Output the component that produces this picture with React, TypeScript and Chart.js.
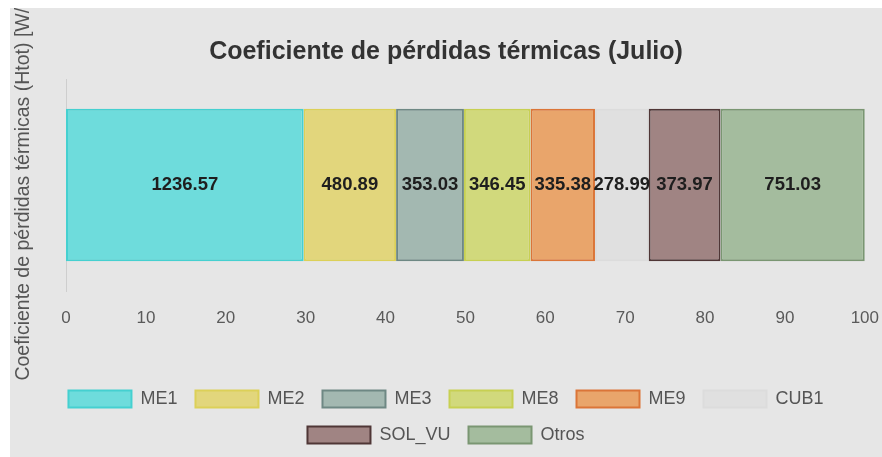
import React, { useEffect, useRef } from "react";
import { Chart, registerables } from "chart.js";

Chart.register(...registerables);

const seriesNames = ["ME1", "ME2", "ME3", "ME8", "ME9", "CUB1", "SOL_VU", "Otros"];
const seriesValues = [1236.57, 480.89, 353.03, 346.45, 335.38, 278.99, 373.97, 751.03];
const fillColors = ["#6EDCDC", "#E2D67C", "#A3B8B1", "#D1D97C", "#E9A56B", "#E0E0E0", "#A08483", "#A4BC9E"];
const borderColors = ["#45D0D0", "#DCD058", "#6E8884", "#C7D052", "#DB7538", "#DCDCDC", "#4F3636", "#7A9672"];
const categories = ["Julio"];
const xTicks = [0, 10, 20, 30, 40, 50, 60, 70, 80, 90, 100];

const FONT = '"Liberation Sans", Arial, Helvetica, sans-serif';

const total = seriesValues.reduce((a, b) => a + b, 0);

const barLabelPlugin = {
  id: "barLabels",
  afterDatasetsDraw(chart: any) {
    const ctx = chart.ctx;
    ctx.save();
    ctx.font = `bold 18.5px ${FONT}`;
    ctx.fillStyle = "#1e1e1e";
    ctx.textAlign = "center";
    ctx.textBaseline = "middle";
    chart.data.datasets.forEach((ds: any, i: number) => {
      const meta = chart.getDatasetMeta(i);
      meta.data.forEach((bar: any) => {
        const p = bar.getProps(["x", "y", "base"], true);
        ctx.fillText(seriesValues[i].toFixed(2), (p.x + p.base) / 2, p.y);
      });
    });
    ctx.restore();
  },
};

export default function App() {
  const ref = useRef<HTMLCanvasElement | null>(null);
  useEffect(() => {
    if (!ref.current) return;
    const chart = new Chart(ref.current, {
      type: "bar",
      data: {
        labels: categories,
        datasets: seriesNames.map((name, i) => ({
          label: name,
          data: [(seriesValues[i] / total) * 100],
          backgroundColor: fillColors[i],
          borderColor: borderColors[i],
          borderWidth: 2,
          borderSkipped: false,
        })),
      },
      options: {
        indexAxis: "y",
        animation: false,
        responsive: true,
        maintainAspectRatio: false,
        layout: { padding: { left: 0, right: 0, top: 0, bottom: 3 } },
        plugins: {
          title: {
            display: true,
            text: "Coeficiente de pérdidas térmicas (Julio)",
            color: "#333",
            font: { family: FONT, size: 25, weight: "bold" },
            padding: { top: 29, bottom: 12 },
          },
          legend: {
            position: "bottom",
            labels: {
              boxWidth: 63,
              boxHeight: 17,
              padding: 18,
              color: "#555",
              font: { family: FONT, size: 18 },
            },
          },
          tooltip: { enabled: false },
        },
        scales: {
          x: {
            stacked: true,
            min: 0,
            max: 100,
            grid: { display: false, drawTicks: true, tickLength: 14 },
            border: { display: false },
            afterBuildTicks: (axis: any) => {
              axis.ticks = xTicks.map((v) => ({ value: v }));
            },
            afterFit: (axis: any) => {
              axis.height = 81;
            },
            ticks: {
              color: "#5a5a5a",
              padding: 3,
              font: { family: FONT, size: 17 },
            },
          },
          y: {
            stacked: true,
            grid: { display: false, drawTicks: false },
            border: { display: true, color: "rgba(0,0,0,0.1)" },
            ticks: { display: false },
            afterFit: (axis: any) => {
              axis.width = 56;
            },
            title: {
              display: true,
              text: "Coeficiente de pérdidas térmicas (Htot) [W/K]",
              color: "#555",
              font: { family: FONT, size: 19.5 },
              padding: { top: 2, bottom: 4 },
            },
          },
        },
      },
      plugins: [barLabelPlugin],
    } as any);
    return () => chart.destroy();
  }, []);

  return (
    <div
      style={{
        position: "absolute",
        left: 10,
        top: 8,
        width: 872,
        height: 449,
        background: "#E6E6E6",
      }}
    >
      <canvas ref={ref} />
    </div>
  );
}
